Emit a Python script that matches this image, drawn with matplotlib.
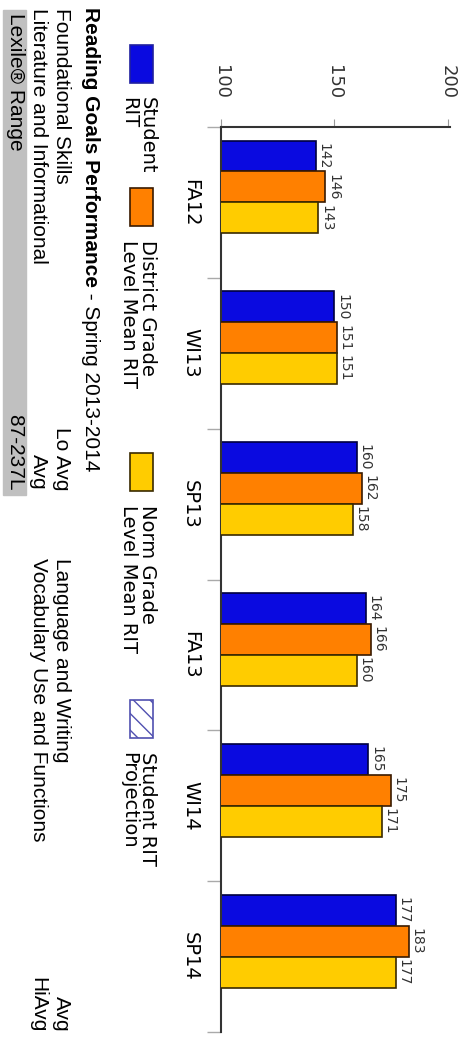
import numpy as np
import matplotlib.pyplot as plt
from matplotlib.patches import Rectangle

terms = ['FA12', 'WI13', 'SP13', 'FA13', 'WI14', 'SP14']
student_rit = [142, 150, 160, 164, 165, 177]
district_mean = [146, 151, 162, 166, 175, 183]
norm_mean = [143, 151, 158, 160, 171, 177]
value_ticks = [100, 150, 200]

goals_left = ['Foundational Skills', 'Literature and Informational']
levels_left = ['Lo Avg', 'Avg']
goals_right = ['Language and Writing', 'Vocabulary Use and Functions']
levels_right = ['Avg', 'HiAvg']
lexile_range = '87-237L'

W, H = 458, 1038
fig = plt.figure(figsize=(W / 100, H / 100), dpi=100)


def fx(px):
    return px / W


def fy(py):
    return 1 - py / H


# chart is laid out sideways: values run left->right, terms top->bottom
ax = fig.add_axes([fx(221), fy(1032), (450 - 221) / W, (1032 - 127) / H])

bar_h = 0.205
series = [
    (student_rit, '#0a0ae0', '#000040'),
    (district_mean, '#ff8000', '#3a1a00'),
    (norm_mean, '#ffcc00', '#3a2a00'),
]
idx = np.arange(len(terms))
for j, (vals, fc, ec) in enumerate(series):
    pos = idx + (j - 1.5) * bar_h
    ax.barh(pos, vals, height=bar_h, color=fc, edgecolor=ec, linewidth=1.2,
            zorder=2 + 2 * j)
    for p, v in zip(pos, vals):
        ax.text(v + 0.3, p, str(v), rotation=-90, ha='left', va='center',
                fontsize=10, color='#333333', zorder=3 + 2 * j)

ax.set_xlim(100, 201)
ax.set_ylim(len(terms) - 0.5, -0.5)
ax.xaxis.tick_top()
ax.set_xticks(value_ticks)
ax.set_xticklabels(value_ticks, rotation=-90, fontsize=13, color='#333333')
ax.tick_params(axis='x', length=6, color='#999999', pad=14)
ax.set_yticks(idx)
ax.set_yticklabels(terms, rotation=-90, fontsize=14, va='center')
ax.tick_params(axis='y', which='major', length=0, pad=15)
ax.set_yticks(np.arange(-0.5, len(terms)), minor=True)
ax.tick_params(axis='y', which='minor', length=10, color='#aaaaaa', width=1)
for s in ['right', 'bottom']:
    ax.spines[s].set_visible(False)
for s in ['top', 'left']:
    ax.spines[s].set_color('#333333')
    ax.spines[s].set_linewidth(1.5)

# legend boxes
legend_items = [
    ('Student\nRIT', '#0a0ae0', '#2020a0', None, 45),
    ('District Grade\nLevel Mean RIT', '#ff8000', '#3a1a00', None, 188),
    ('Norm Grade\nLevel Mean RIT', '#ffcc00', '#3a2a00', None, 453),
    ('Student RIT\nProjection', 'white', '#5050b0', '\\\\', 700),
]
for label, fc, ec, hatch, top in legend_items:
    fig.add_artist(Rectangle((fx(130), fy(top + 38)), 23 / W, 38 / H,
                             facecolor=fc, edgecolor=ec, hatch=hatch,
                             linewidth=1.2, transform=fig.transFigure))
    fig.text(fx(138), fy(top + 52), label, rotation=-90, ha='center',
             va='top', multialignment='left', fontsize=14, linespacing=1.0)

# goals table underneath
tfont = dict(family='Liberation Sans', fontsize=15, rotation=-90, ha='center')
title = fig.text(fx(90), fy(7), 'Reading Goals Performance', weight='bold',
                 va='top', **tfont)
bb = title.get_window_extent(fig.canvas.get_renderer())
fig.text(fx(90), bb.y0 / (H), ' - Spring 2013-2014', va='top', **tfont)

for k, xc in enumerate([61, 38]):
    fig.text(fx(xc), fy(8), goals_left[k], va='top', **tfont)
    fig.text(fx(xc), fy(490), levels_left[k], va='bottom', **tfont)
    fig.text(fx(xc), fy(558), goals_right[k], va='top', **tfont)
    fig.text(fx(xc), fy(1032), levels_right[k], va='bottom', **tfont)

fig.add_artist(Rectangle((fx(3), fy(495)), 23 / W, 485 / H, color='#c0c0c0',
                         transform=fig.transFigure, zorder=0))
fig.text(fx(15), fy(13), 'Lexile® Range', va='top', **tfont)
fig.text(fx(15), fy(490), lexile_range, va='bottom', **tfont)

fig.savefig('out.png', dpi=100)
